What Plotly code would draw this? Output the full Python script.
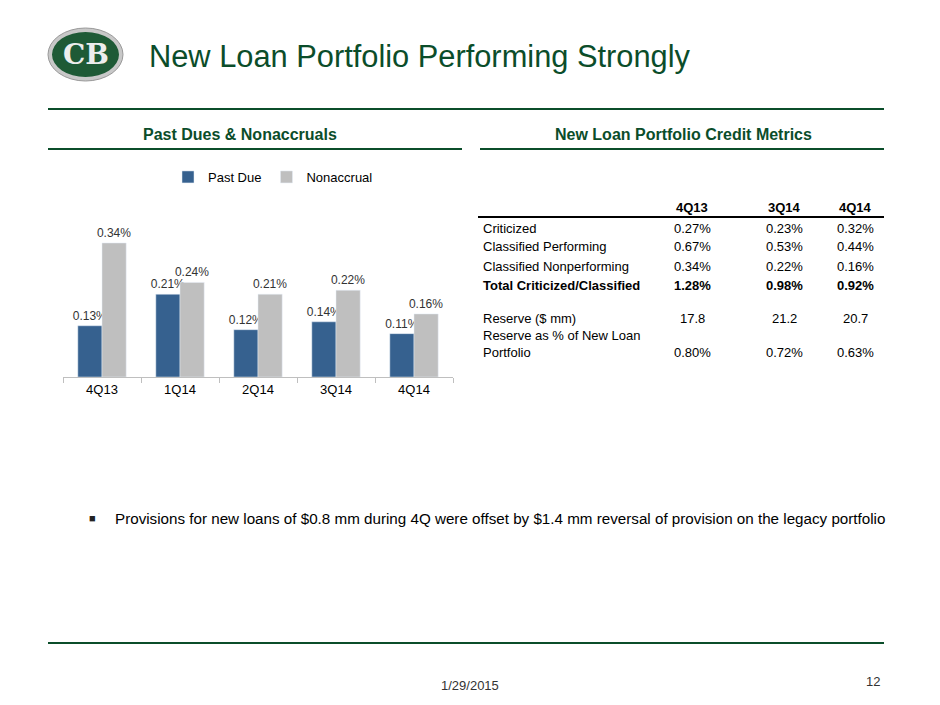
import plotly.graph_objects as go

quarters = ["4Q13", "1Q14", "2Q14", "3Q14", "4Q14"]
past_due = [0.13, 0.21, 0.12, 0.14, 0.11]
nonaccrual = [0.34, 0.24, 0.21, 0.22, 0.16]

tbl_cols = ["4Q13", "3Q14", "4Q14"]
tbl_rows = ["Criticized", "Classified Performing", "Classified Nonperforming",
            "Total Criticized/Classified", "Reserve ($ mm)", "Portfolio"]
tbl_vals = [["0.27%", "0.23%", "0.32%"],
            ["0.67%", "0.53%", "0.44%"],
            ["0.34%", "0.22%", "0.16%"],
            ["1.28%", "0.98%", "0.92%"],
            ["17.8", "21.2", "20.7"],
            ["0.80%", "0.72%", "0.63%"]]

W, H = 940, 705
OFF = 8  # page margin of the html body
GREEN = "#0B4D2A"
FONT = "Liberation Sans"

def px(x): return (x - OFF) / W
def py(y): return 1 - (y - OFF) / H

fig = go.Figure()
fig.add_bar(x=quarters, y=past_due, name="Past Due", marker_color="#36618F",
            text=[f"{v:.2f}%" for v in past_due], textposition="outside", textangle=0,
            textfont=dict(size=12, color="#333"), cliponaxis=False, constraintext="none")
fig.add_bar(x=quarters, y=nonaccrual, name="Nonaccrual", marker_color="#BFBFBF",
            text=[f"{v:.2f}%" for v in nonaccrual], textposition="outside", textangle=0,
            textfont=dict(size=12, color="#333"), cliponaxis=False, constraintext="none")

ann = []
shapes = []
def text(x, y, s, size=13, color="#000", bold=False, xanchor="left", family=FONT):
    if bold:
        s = f"<b>{s}</b>"
    ann.append(dict(x=px(x), y=py(y), xref="paper", yref="paper", text=s, showarrow=False,
                    xanchor=xanchor, yanchor="middle", font=dict(size=size, color=color, family=family)))
def line(x0, y0, x1, y1, color=GREEN, width=2):
    shapes.append(dict(type="line", xref="paper", yref="paper", x0=px(x0), y0=py(y0),
                       x1=px(x1), y1=py(y1), line=dict(color=color, width=width)))

# logo
shapes.append(dict(type="circle", xref="paper", yref="paper", x0=px(48), y0=py(81), x1=px(123), y1=py(28),
                   fillcolor="#C8C8C8", line=dict(color="#999", width=1)))
shapes.append(dict(type="circle", xref="paper", yref="paper", x0=px(52), y0=py(77), x1=px(119), y1=py(32),
                   fillcolor="#1E5A36", line=dict(width=0)))
text(86, 55, "<b>CB</b>", size=28, color="#EDEDED", xanchor="center", family="DejaVu Serif")
text(147, 57, "New Loan Portfolio Performing Strongly", size=30.8, color=GREEN)

line(48, 109, 884, 109)
line(48, 149, 462, 149)
line(480, 149, 884, 149)
line(48, 643, 884, 643)
text(240, 134, "Past Dues & Nonaccruals", size=16, color=GREEN, bold=True, xanchor="center")
text(683, 134, "New Loan Portfolio Credit Metrics", size=16, color=GREEN, bold=True, xanchor="center")

# table
col_x = [692, 784, 855]
for c, cx in zip(tbl_cols, col_x):
    text(cx, 207, c, bold=True, xanchor="center")
line(478, 217, 884, 217, color="#000", width=2)
row_y = [228, 247, 266, 285, 318, 352]
for i, (r, ry) in enumerate(zip(tbl_rows, row_y)):
    text(481, ry, r, bold=(i == 3))
    for v, cx in zip(tbl_vals[i], col_x):
        text(cx, ry, v, bold=(i == 3), xanchor="center")
text(481, 335, "Reserve as % of New Loan")

text(87, 518, "■", size=11, color="#222")
text(113, 518, "Provisions for new loans of $0.8 mm during 4Q were offset by $1.4 mm reversal of provision on the legacy portfolio",
     size=15.2, color="#000")
text(470, 685, "1/29/2015", size=13, color="#333", xanchor="center")
text(882, 681, "12", size=13, color="#333", xanchor="right")

fig.update_layout(
    width=W, height=H, margin=dict(l=0, r=0, t=0, b=0),
    paper_bgcolor="white", plot_bgcolor="white",
    font=dict(family=FONT, size=13, color="#000"),
    barmode="group", bargap=0.38, bargroupgap=0,
    annotations=ann, shapes=shapes,
    legend=dict(orientation="h", x=px(168), y=py(177), xanchor="left", yanchor="middle",
                font=dict(size=13), itemwidth=30, tracegroupgap=0),
    xaxis=dict(domain=[px(63), px(453)], showline=True, linecolor="#BFBFBF", ticks="outside",
               tickson="boundaries", tickcolor="#BFBFBF", ticklen=5, tickfont=dict(size=13)),
    yaxis=dict(domain=[py(377), py(200)], range=[0, 0.449], visible=False, showgrid=False),
)
fig.write_html("out.html")
